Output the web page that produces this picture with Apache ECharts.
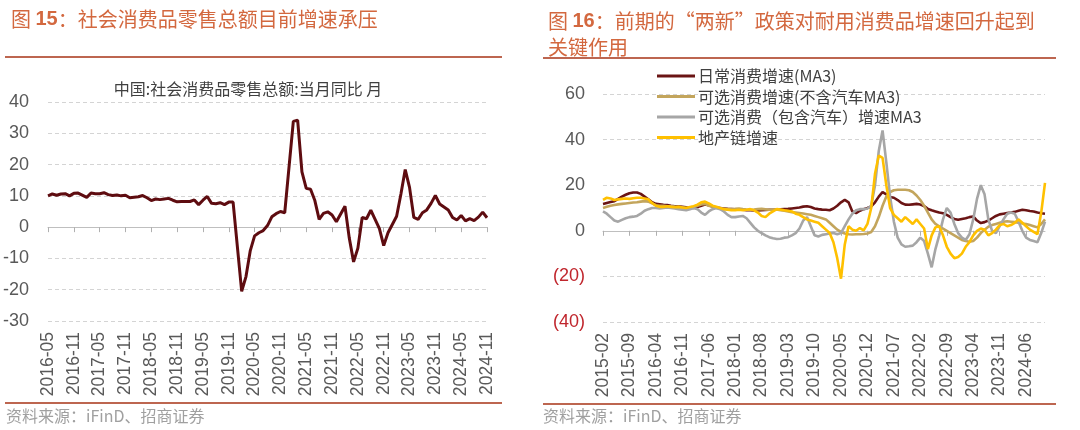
<!DOCTYPE html>
<html>
<head>
<meta charset="utf-8">
<script src="https://cdn.jsdelivr.net/npm/echarts@6/dist/echarts.min.js"></script>
<style>
  html, body { margin: 0; padding: 0; background: #fff; }
  #chart { width: 1080px; height: 430px; }
</style>
</head>
<body>
<div id="chart"></div>
<script>
// month labels "YYYY-MM" from start to end (inclusive)
function monthRange(start, end) {
  let [y, m] = start.split('-').map(Number)
  const out = []
  while (true) {
    const s = y + '-' + String(m).padStart(2, '0')
    out.push(s)
    if (s === end) break
    m++
    if (m > 12) { m = 1; y++ }
  }
  return out
}

// 图15: 社零当月同比 (Jan is reported together with Feb, so Jan is empty)
const retailMonths = monthRange('2016-05', '2024-11')
const retailYoY = [
  10.0, 10.6, 10.2, 10.6, 10.7, 10.0, 10.8, 10.9,
  null, 9.5, 10.9, 10.7, 10.7, 11.0, 10.4, 10.1, 10.3, 10.0, 10.2, 9.4,
  null, 9.7, 10.1, 9.4, 8.5, 9.0, 8.8, 9.0, 9.2, 8.6, 8.1, 8.2,
  null, 8.2, 8.7, 7.2, 8.6, 9.8, 7.6, 7.5, 7.8, 7.2, 8.0, 8.0,
  null, -20.5, -15.8, -7.5, -2.8, -1.8, -1.1, 0.5, 3.3, 4.3, 5.0, 4.6,
  null, 33.8, 34.2, 17.7, 12.4, 12.1, 8.5, 2.5, 4.4, 4.9, 3.9, 1.7,
  null, 6.7, -3.5, -11.1, -6.7, 3.1, 2.7, 5.4, 2.5, -0.5, -5.9, -1.8,
  null, 3.5, 10.6, 18.4, 12.7, 3.1, 2.5, 4.6, 5.5, 7.6, 10.1, 7.4,
  null, 5.5, 3.1, 2.3, 3.7, 2.0, 2.7, 2.1, 3.2, 4.8, 3.0
]

// 图16
const consMonths = monthRange('2015-02', '2024-11')
const dailyMA3 = [
  11.8, 12.2, 12.6, 13.0, 14.0, 15.0, 15.8, 16.5, 16.8, 16.8,
  16.2, 15.0, 13.8, 12.5, 11.8, 11.6, 11.4, 11.3, 11.0, 10.8,
  10.7, 10.5, 10.3, 10.1, 10.0, 10.4, 11.0, 11.5, 11.2, 10.6,
  10.2, 10.0, 9.8, 9.6, 9.5, 9.4, 9.2, 9.2, 9.0, 9.0,
  8.9, 8.9, 9.0, 9.1, 9.2, 9.2, 9.3, 9.4, 9.5, 9.6,
  9.8, 10.0, 10.2, 10.6, 10.8, 10.4, 9.8, 9.5, 9.3, 9.2,
  9.0, 9.8, 11.0, 12.5, 13.6, 12.5, 8.5, 7.8, 8.8, 9.5,
  10.0, 10.7, 12.5, 15.0, 17.0, 16.0, 14.8, 14.5, 13.5, 12.2,
  11.5, 11.4, 11.6, 11.8, 11.5, 10.8, 9.6, 9.0, 8.5, 8.0,
  7.7, 7.0, 6.0, 5.2, 4.8, 5.2, 5.5, 6.0, 6.3, 4.5,
  3.4, 3.8, 4.5, 5.5, 6.5, 7.2, 7.5, 7.8, 8.0, 8.3,
  8.8, 9.2, 9.0, 8.7, 8.5, 8.0, 7.7, 7.5
]
const optionalExAutoMA3 = [
  10.0, 10.5, 11.0, 11.3, 11.6, 11.8, 12.0, 12.2, 12.4, 12.5,
  12.8, 13.0, 12.8, 12.0, 11.2, 11.0, 11.0, 10.8, 10.8, 10.6,
  10.5, 10.3, 10.0, 10.2, 10.5, 11.0, 11.5, 11.8, 11.0, 10.5,
  10.0, 9.8, 9.6, 9.5, 9.5, 9.6, 9.8, 9.5, 9.3, 9.2,
  9.3, 9.5, 9.6, 9.4, 9.2, 9.3, 9.4, 9.0, 8.8, 8.5,
  8.2, 8.0, 7.8, 7.6, 7.3, 7.0, 6.5, 6.0, 5.5, 5.0,
  3.5, 2.0, 0.5, -0.5, -1.2, -1.5, -1.6, -1.5, -1.5, -1.4,
  -1.2, -0.5, 2.0, 6.0, 11.0, 15.0, 17.0, 17.8, 18.0, 18.0,
  18.0, 17.8, 17.0, 15.5, 13.5, 11.0, 8.0, 5.0, 3.0, 2.0,
  1.0, 0.0, -1.0, -2.0, -3.0, -4.0, -4.5, -4.8, -4.5, -3.0,
  -1.0, 0.5, 1.8, 2.5, 3.0, 3.5, 4.0, 4.2, 4.0, 3.8,
  3.5, 3.2, 3.0, 2.5, 2.0, 1.5, 3.0, 5.0
]
const optionalInclAutoMA3 = [
  8.5, 7.5, 6.0, 4.5, 4.0, 4.8, 5.5, 6.0, 6.2, 6.5,
  7.5, 8.8, 9.5, 10.0, 10.0, 9.8, 10.0, 10.2, 10.0, 9.8,
  9.5, 9.2, 9.0, 9.5, 10.0, 9.5, 8.0, 7.0, 8.5, 9.5,
  10.0, 9.5, 8.5, 7.0, 6.0, 6.0, 6.3, 6.5, 5.5, 3.5,
  1.5, 0.0, -1.0, -2.0, -2.8, -3.3, -3.6, -3.5, -3.0, -2.8,
  -2.0, -1.0, 1.0, 4.5, 6.0, 2.0, -2.0, -2.5, -1.8, -1.5,
  -1.2, -1.0, -1.5, -1.0, 2.0, 5.0, 7.5, 9.0, 9.5, 9.5,
  9.8, 11.0, 20.0, 35.0, 44.0, 30.0, 15.0, 4.0, -3.0, -6.0,
  -7.0, -6.8, -6.5, -5.0, -3.0, -4.5, -10.0, -16.0, -8.0, -2.0,
  5.0, 10.0, 8.0, 3.0, -1.0, -3.0, -4.0, -1.5, 5.0, 14.0,
  20.0, 16.0, 5.0, 0.0, -1.0, 2.0, 5.0, 7.5, 8.0, 7.5,
  4.0, 0.0, -3.0, -4.0, -4.5, -5.0, -1.0, 4.0
]
const propertyChain = [
  13.6, 14.5, 14.2, 13.5, 13.8, 14.0, 14.2, 14.0, 14.3, 14.5,
  14.5, 14.2, 13.8, 12.2, 11.0, 10.5, 10.5, 10.8, 10.5, 10.3,
  10.5, 10.2, 10.0, 10.4, 10.8, 11.5, 12.5, 12.8, 12.0, 11.0,
  10.5, 10.0, 9.5, 9.3, 9.0, 9.0, 9.2, 9.0, 9.2, 9.5,
  9.0, 8.0, 6.5, 6.0, 7.5, 8.5, 9.5, 9.3, 9.0, 8.8,
  8.5, 7.5, 7.0, 6.0, 5.0, 4.5, 4.0, 3.5, 2.0, 0.5,
  -1.0, -5.0, -12.0, -21.0, -6.0, 2.0, 0.5, 0.0, 1.2, 0.2,
  3.0, 10.0, 25.0, 33.0, 32.0, 20.0, 10.0, 7.0, 5.5, 4.0,
  6.0, 4.5, 3.0, 5.0, 3.0, 1.0, -8.0, -2.0, 1.5, 2.0,
  -2.0, -7.0, -10.0, -12.0, -11.5, -10.0, -7.0, -5.0, -2.0, 0.0,
  1.0, 0.5, -2.0, -1.0, 0.5, 2.5, 3.0, 2.0, 2.5, 3.5,
  5.0, 3.5, 2.0, 0.5, -0.5, -1.5, 8.0, 21.0
]
const consNames = ['日常消费增速(MA3)', '可选消费增速(不含汽车MA3)', '可选消费（包含汽车）增速MA3', '地产链增速']
const consColors = ['#6a1414', '#c3a55c', '#a6a6a6', '#ffc000']

const titleColor = '#d3683f'
const ruleColor = '#bd6650'
const numFont = '"Liberation Sans", Arial, sans-serif'
const cjkFont = '"Noto Sans CJK SC", "Liberation Sans", sans-serif'
const gridLine = { show: true, lineStyle: { color: '#d4d4d4', type: [4, 3], width: 1 } }

let chartDom = document.getElementById('chart')
let myChart = echarts.init(chartDom, null, { renderer: 'canvas' })

function catAxes(gridIndex, data, every) {
  return [
    {
      gridIndex, type: 'category', data, boundaryGap: false, position: 'bottom',
      axisLine: { show: false, onZero: false }, axisTick: { show: false },
      axisLabel: { rotate: 90, interval: every, fontSize: 17.5, color: '#595959', margin: 11, fontFamily: numFont }
    },
    {
      gridIndex, type: 'category', data, boundaryGap: false, position: 'top',
      axisLine: { onZero: true, lineStyle: { color: '#bfbfbf', width: 1 } },
      axisTick: { inside: true, interval: every, length: 5, lineStyle: { color: '#b0b0b0' } },
      axisLabel: { show: false }
    }
  ]
}

let option = {
  animation: false,
  textStyle: { fontFamily: cjkFont },
  title: [
    {
      left: 6, top: 4,
      text: '{a|图 }{b|15}{a|：社会消费品零售总额目前增速承压}',
      textStyle: { fontWeight: 'normal', rich: {
        a: { fontSize: 20, color: titleColor, fontWeight: 'normal', fontFamily: cjkFont },
        b: { fontSize: 20, color: titleColor, fontWeight: 'bold', fontFamily: numFont }
      } }
    },
    {
      left: 543, top: 3,
      text: '{a|图 }{b|16}{a|：前期的“两新”政策对耐用消费品增速回升起到}\n{a|关键作用}',
      textStyle: { fontWeight: 'normal', rich: {
        a: { fontSize: 20, lineHeight: 26, color: titleColor, fontWeight: 'normal', fontFamily: cjkFont },
        b: { fontSize: 20, lineHeight: 26, color: titleColor, fontWeight: 'bold', fontFamily: numFont }
      } }
    },
    {
      left: 243, top: 76, textAlign: 'center',
      text: '中国:社会消费品零售总额:当月同比 月',
      textStyle: { fontSize: 16, fontWeight: 'normal', color: '#404040', fontFamily: cjkFont }
    }
  ],
  legend: {
    left: 652, top: 63, orient: 'vertical', icon: 'rect',
    itemWidth: 38, itemHeight: 3, itemGap: 4.5,
    textStyle: { fontSize: 16, lineHeight: 16, color: '#404040', fontFamily: cjkFont, padding: [0, 0, 0, -2] },
    data: consNames
  },
  grid: [
    { left: 46, top: 102, width: 441, height: 219 },
    { left: 603, top: 94, width: 442, height: 228 }
  ],
  xAxis: catAxes(0, retailMonths, 5).concat(catAxes(1, consMonths, 6)),
  yAxis: [
    {
      gridIndex: 0, type: 'value', min: -30, max: 40, interval: 10,
      axisLine: { show: false }, axisTick: { show: false }, splitLine: gridLine,
      axisLabel: { fontSize: 18, color: '#595959', margin: 19, fontFamily: numFont }
    },
    {
      gridIndex: 1, type: 'value', min: -40, max: 60, interval: 20,
      axisLine: { show: false }, axisTick: { show: false }, splitLine: gridLine,
      axisLabel: {
        margin: 18, fontFamily: numFont,
        formatter: v => v < 0 ? '{n|(' + (-v) + ')}' : '{p|' + v + '}',
        rich: {
          n: { fontSize: 18, color: '#c0262d', fontFamily: numFont },
          p: { fontSize: 18, color: '#595959', fontFamily: numFont }
        }
      }
    }
  ],
  series: [
    {
      name: '社零当月同比', type: 'line', xAxisIndex: 0, yAxisIndex: 0,
      data: retailYoY, connectNulls: true, symbol: 'none',
      lineStyle: { color: '#5e0c10', width: 3 }
    }
  ].concat([dailyMA3, optionalExAutoMA3, optionalInclAutoMA3, propertyChain].map((d, k) => ({
    name: consNames[k], type: 'line', xAxisIndex: 2, yAxisIndex: 1,
    data: d, symbol: 'none', color: consColors[k],
    lineStyle: { color: consColors[k], width: 2.6 }
  }))),
  graphic: [
    { type: 'line', shape: { x1: 5, y1: 57, x2: 502, y2: 57 }, style: { stroke: ruleColor, lineWidth: 2 } },
    { type: 'line', shape: { x1: 543, y1: 58, x2: 1056, y2: 58 }, style: { stroke: ruleColor, lineWidth: 2 } },
    { type: 'line', shape: { x1: 5, y1: 403, x2: 502, y2: 403 }, style: { stroke: ruleColor, lineWidth: 2 } },
    { type: 'line', shape: { x1: 543, y1: 404, x2: 1056, y2: 404 }, style: { stroke: ruleColor, lineWidth: 2 } },
    { type: 'text', left: 6, top: 408, style: { text: '资料来源：iFinD、招商证券', fontSize: 16, fill: '#a0a0a0', fontFamily: cjkFont } },
    { type: 'text', left: 543, top: 408, style: { text: '资料来源：iFinD、招商证券', fontSize: 16, fill: '#a0a0a0', fontFamily: cjkFont } }
  ]
}

option && myChart.setOption(option)
</script>
</body>
</html>
